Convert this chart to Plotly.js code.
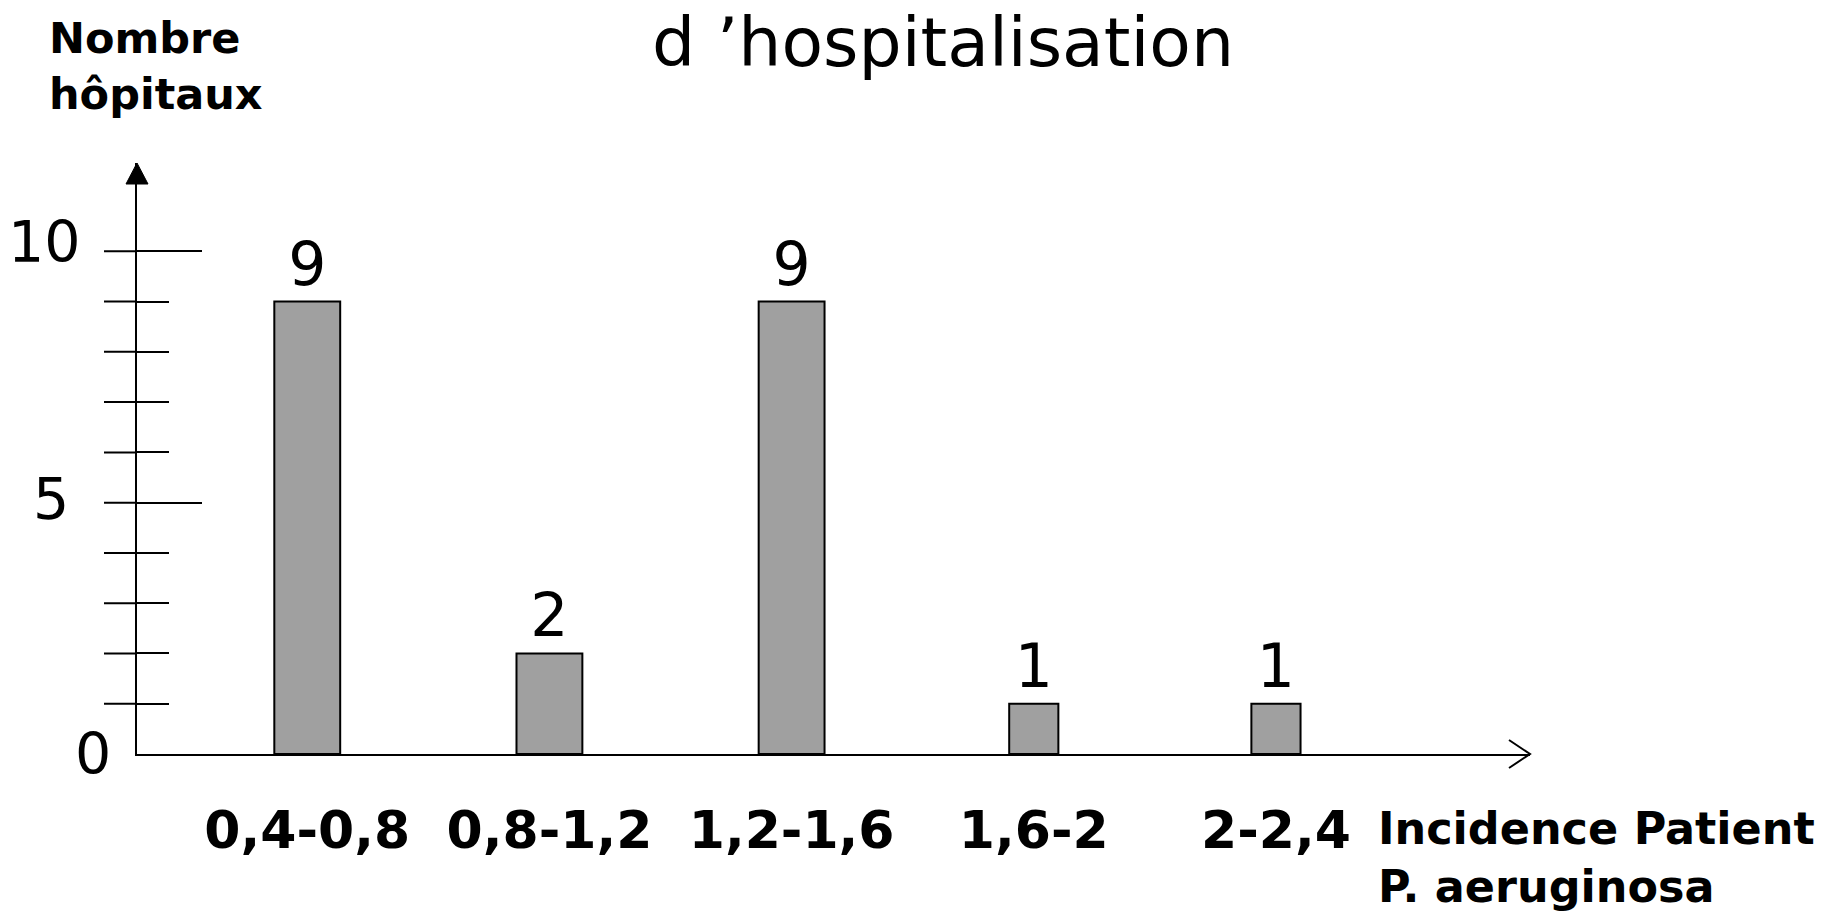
<!DOCTYPE html>
<html>
<head>
<meta charset="utf-8">
<script src="https://cdn.plot.ly/plotly-3.0.1.min.js"></script>
<style>html,body{margin:0;padding:0;background:#fff;}</style>
</head>
<body>
<div id="chart" style="width:1838px;height:923px;"></div>
<script>
// ---- data ----
const categories = ['0,4-0,8', '0,8-1,2', '1,2-1,6', '1,6-2', '2-2,4'];
const hospitalCounts = [9, 2, 9, 1, 1];
const yTickLabels = ['0', '5', '10'];
const yTickValues = [0, 5, 10];
const yMinorTicks = [1, 2, 3, 4, 6, 7, 8, 9];
const yAllTicks = [1, 2, 3, 4, 5, 6, 7, 8, 9, 10];
const titleText = 'd ’hospitalisation';
const yAxisLabel = 'Nombre<br>hôpitaux';
const xAxisLabel = 'Incidence Patient<br>P. aeruginosa';

// ---- styles / layout constants ----
const W = 1838, H = 923;
const plotL = 137, plotR = 1530, plotT = 163, plotB = 754.3;
const yTop = 11.757;
const barWidths = [0.272, 0.272, 0.272, 0.203, 0.203];
const px = x => (x - plotL) / (plotR - plotL);
const py = y => (plotB - y) / (plotB - plotT);
const numFont = {family: 'DejaVu Sans, sans-serif', size: 60, color: '#000'};
const tickFont = {family: 'DejaVu Sans, sans-serif', size: 57, color: '#000'};
const boldFont = {family: 'DejaVu Sans, sans-serif', size: 43, color: '#000', weight: 'bold'};
const boldFontX = {family: 'DejaVu Sans, sans-serif', size: 44.5, color: '#000', weight: 'bold'};

const trace = {
  type: 'bar',
  x: categories,
  y: hospitalCounts,
  width: barWidths,
  text: hospitalCounts.map(String),
  textposition: 'outside',
  cliponaxis: false,
  textfont: numFont,
  marker: {color: '#a0a0a0', line: {color: '#000', width: 2}},
  hoverinfo: 'x+y'
};

const labelShift = {0: {xs: -24, ys: 0}, 5: {xs: -66, ys: 4}, 10: {xs: -54, ys: 9}};
const annotations = yTickLabels.map((t, i) => {
  const s = labelShift[yTickValues[i]];
  return {xref: 'paper', x: 0, xanchor: 'right', xshift: s.xs,
          yref: 'y', y: yTickValues[i], yanchor: 'middle', yshift: s.ys,
          text: t, showarrow: false, font: tickFont};
});
annotations.push({xref: 'paper', x: px(47), xanchor: 'left', yref: 'paper', y: py(65.5), yanchor: 'middle',
  text: yAxisLabel, align: 'left', showarrow: false, font: boldFont});
annotations.push({xref: 'paper', x: px(1376), xanchor: 'left', yref: 'paper', y: py(858), yanchor: 'middle',
  text: xAxisLabel, align: 'left', showarrow: false, font: boldFontX});

// left-hand stubs of the crossing ticks
const tickStubs = yAllTicks.map(v => ({
  type: 'line', xref: 'paper', xsizemode: 'pixel', xanchor: 0, x0: -33, x1: 0,
  yref: 'y', y0: v, y1: v, line: {color: '#000', width: 2}
}));

const layout = {
  width: W, height: H, autosize: false,
  margin: {l: plotL, r: W - plotR, t: plotT, b: H - plotB, pad: 0},
  paper_bgcolor: '#fff', plot_bgcolor: '#fff',
  showlegend: false,
  title: {text: titleText, x: 943 / W, xanchor: 'center', xref: 'container', yref: 'container',
          y: 1 - 42 / H, yanchor: 'middle', font: {family: 'DejaVu Sans, sans-serif', size: 68, color: '#000'}},
  bargap: 0,
  xaxis: {
    type: 'category', range: [-0.703, 5.049], fixedrange: true,
    showline: true, linecolor: '#000', linewidth: 2, showgrid: false, zeroline: false,
    ticks: '', tickfont: {family: 'DejaVu Sans, sans-serif', size: 52, color: '#000', weight: 'bold'},
    ticklabelstandoff: 30
  },
  yaxis: {
    range: [0, yTop], fixedrange: true,
    showline: true, linecolor: '#000', linewidth: 2, showgrid: false, zeroline: false,
    tickmode: 'array', tickvals: [5, 10], ticks: 'inside', ticklen: 65, tickwidth: 2, tickcolor: '#000',
    showticklabels: false,
    minor: {tickmode: 'array', tickvals: yMinorTicks, ticks: 'inside', ticklen: 32, tickwidth: 2, tickcolor: '#000', showgrid: false}
  },
  shapes: tickStubs.concat([
    {type: 'path', xref: 'paper', yref: 'paper', xsizemode: 'pixel', ysizemode: 'pixel', xanchor: 0, yanchor: 1,
     path: 'M-11,-21L0,0L11,-21Z', fillcolor: '#000', line: {color: '#000', width: 1}},
    {type: 'path', xref: 'paper', yref: 'paper', xsizemode: 'pixel', ysizemode: 'pixel', xanchor: 1, yanchor: 0,
     path: 'M-21,14L0,0L-21,-14', fillcolor: 'rgba(0,0,0,0)', line: {color: '#000', width: 2}}
  ]),
  annotations: annotations
};

Plotly.newPlot('chart', [trace], layout, {displayModeBar: false, staticPlot: true});
</script>
</body>
</html>
